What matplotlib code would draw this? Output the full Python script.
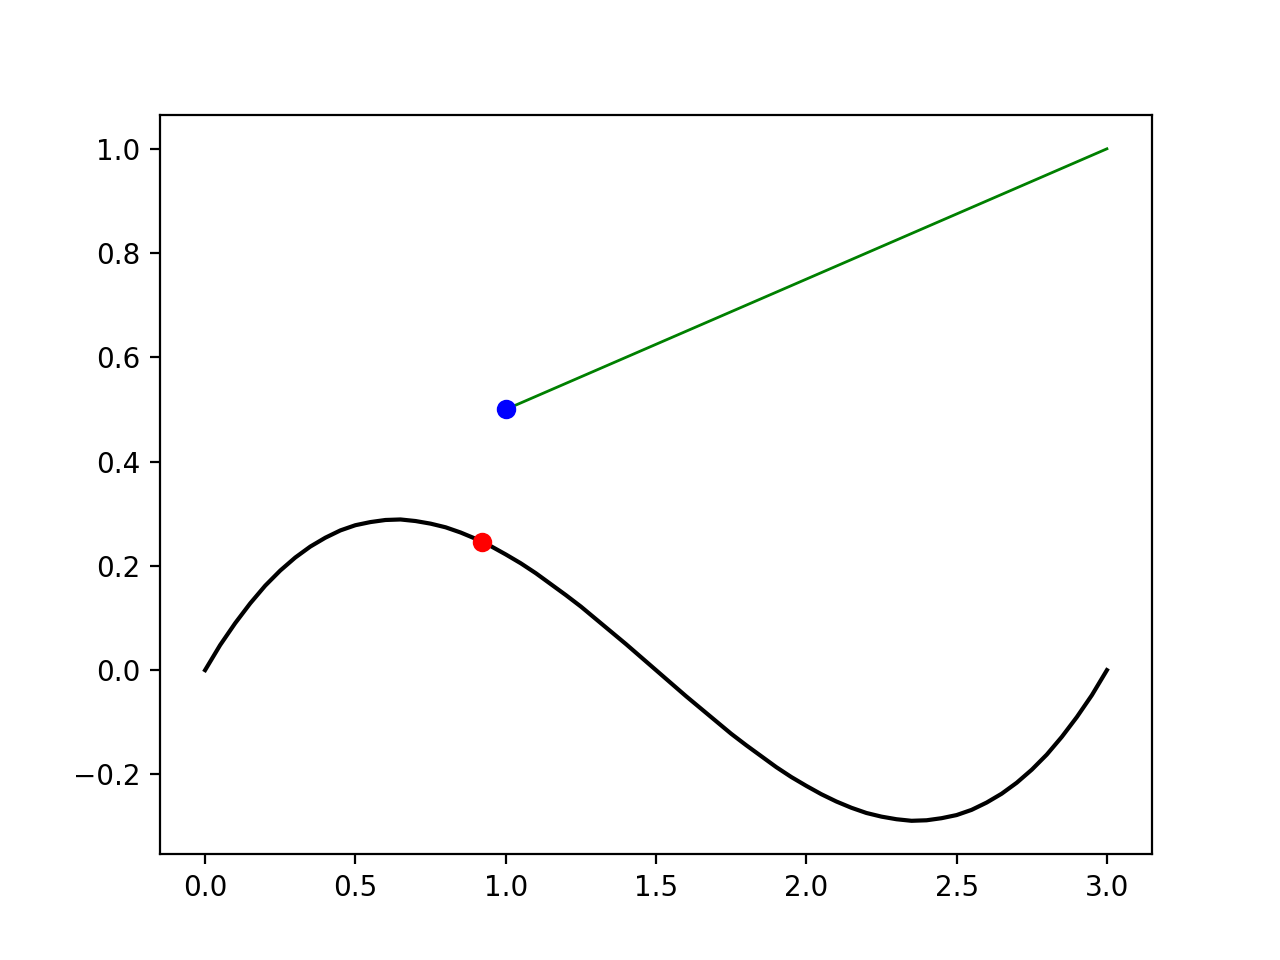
import matplotlib
matplotlib.use("Agg")
import matplotlib.pyplot as plt

# curve values
curve_x = [0.00, 0.05, 0.10, 0.15, 0.20, 0.25, 0.30, 0.35, 0.40, 0.45, 0.50,
           0.55, 0.60, 0.65, 0.70, 0.75, 0.80, 0.85, 0.90, 0.95, 1.00,
           1.05, 1.10, 1.15, 1.20, 1.25, 1.30, 1.35, 1.40, 1.45, 1.50,
           1.55, 1.60, 1.65, 1.70, 1.75, 1.80, 1.85, 1.90, 1.95, 2.00,
           2.05, 2.10, 2.15, 2.20, 2.25, 2.30, 2.35, 2.40, 2.45, 2.50,
           2.55, 2.60, 2.65, 2.70, 2.75, 2.80, 2.85, 2.90, 2.95, 3.00]
curve_y = [0.000, 0.048, 0.090, 0.128, 0.162, 0.191, 0.216, 0.237, 0.254, 0.268, 0.278,
           0.284, 0.288, 0.289, 0.286, 0.281, 0.274, 0.264, 0.252, 0.238, 0.222,
           0.205, 0.186, 0.165, 0.144, 0.122, 0.098, 0.074, 0.050, 0.025, 0.000,
           -0.025, -0.050, -0.074, -0.098, -0.122, -0.144, -0.165, -0.186, -0.205, -0.222,
           -0.238, -0.252, -0.264, -0.274, -0.281, -0.286, -0.289, -0.288, -0.284, -0.278,
           -0.268, -0.254, -0.237, -0.216, -0.191, -0.162, -0.128, -0.090, -0.048, 0.000]

line_x = [1.0, 3.0]
line_y = [0.5, 1.0]

red_pt = (0.92, 0.245)
blue_pt = (1.0, 0.5)

fig, ax = plt.subplots(figsize=(6.4, 4.8), dpi=200)

ax.plot(curve_x, curve_y, color='black', linewidth=1.5)
ax.plot(line_x, line_y, color='green', linewidth=1.0)
ax.plot([red_pt[0]], [red_pt[1]], 'o', color='red', markersize=6)
ax.plot([blue_pt[0]], [blue_pt[1]], 'o', color='blue', markersize=6)

fig.savefig("out.png")
